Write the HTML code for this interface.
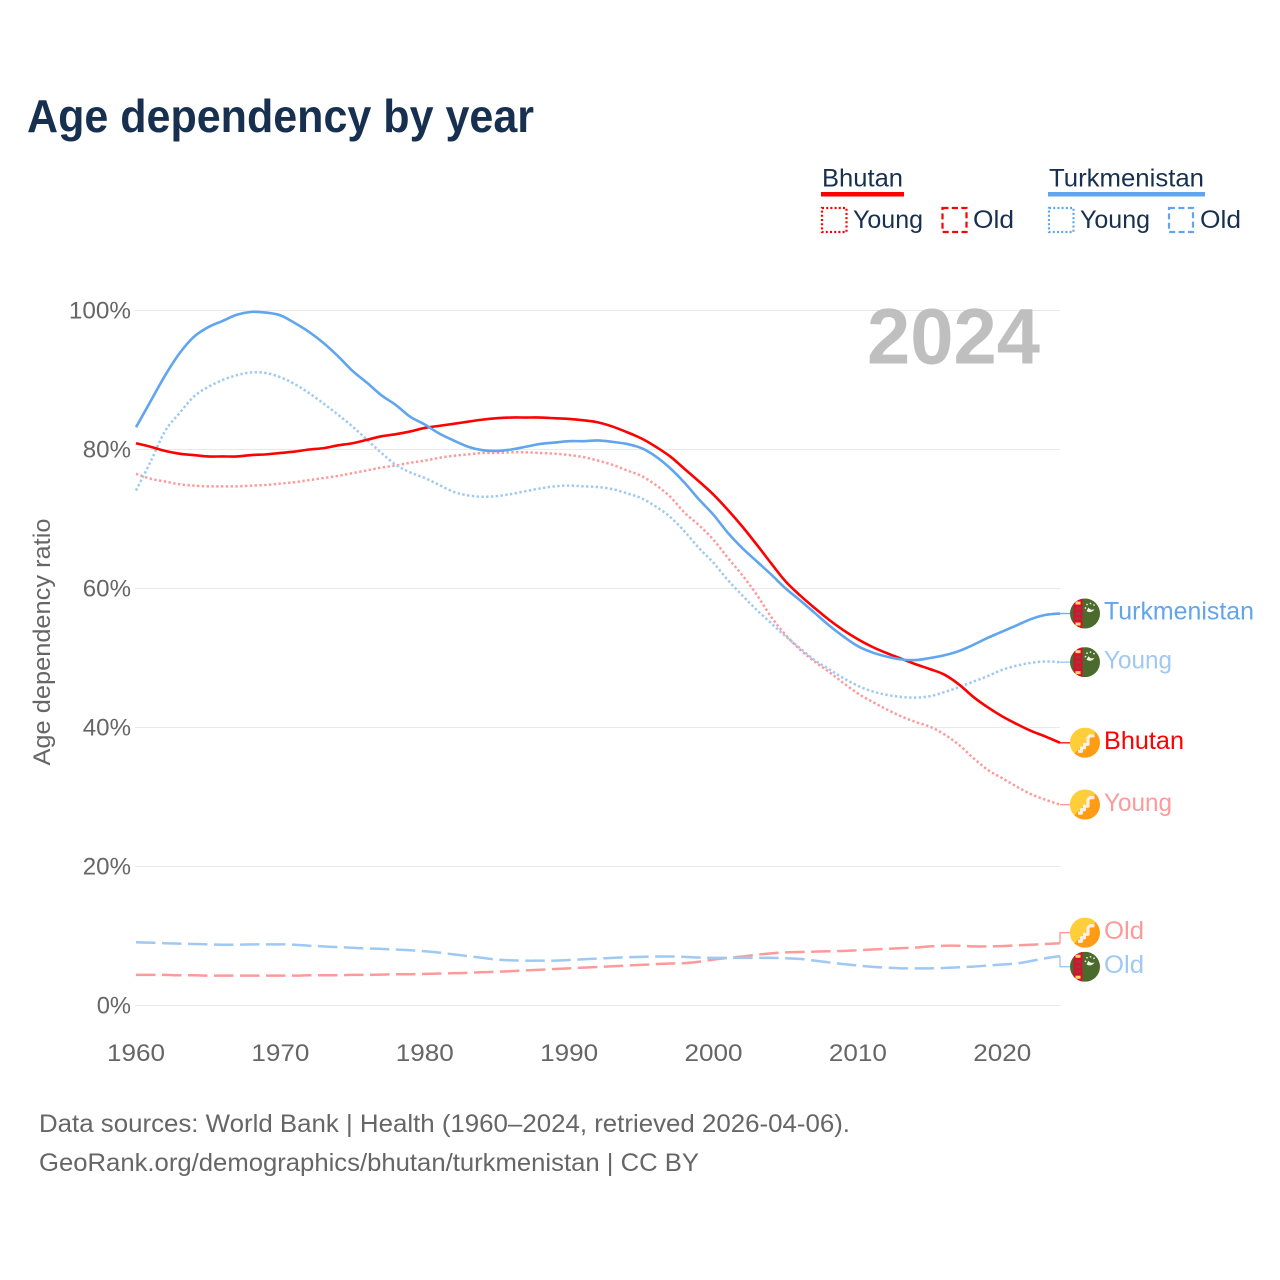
<!DOCTYPE html>
<html lang="en">
<head>
<meta charset="utf-8">
<title>Age dependency by year</title>
<style>
  html, body { margin: 0; padding: 0; background: #fff; }
  svg { display: block; font-family: "Liberation Sans", sans-serif; }
</style>
</head>
<body>
<svg id="chart" width="1280" height="1280" viewBox="0 0 1280 1280" xmlns="http://www.w3.org/2000/svg">
  <rect x="0" y="0" width="1280" height="1280" fill="#fff"/>
  <text x="27" y="132" font-size="46" font-weight="700" fill="#18304f" textLength="507" lengthAdjust="spacingAndGlyphs">Age dependency by year</text>

  <g fill="#18304f" font-size="25">
    <text x="822" y="186.5" textLength="81" lengthAdjust="spacingAndGlyphs">Bhutan</text>
    <rect x="821" y="192" width="83" height="4.5" fill="#ff0000"/>
    <rect x="822" y="208" width="24.5" height="24" fill="none" stroke="#ff0000" stroke-width="2.2" stroke-dasharray="2 2.2"/>
    <text x="853" y="228" textLength="70" lengthAdjust="spacingAndGlyphs">Young</text>
    <rect x="942.5" y="208" width="24" height="24" fill="none" stroke="#ff0000" stroke-width="2.2" stroke-dasharray="6 3.4"/>
    <text x="973" y="228" textLength="41" lengthAdjust="spacingAndGlyphs">Old</text>
    <text x="1049" y="186.5" textLength="155" lengthAdjust="spacingAndGlyphs">Turkmenistan</text>
    <rect x="1048" y="192" width="157" height="4.5" fill="#60a5ee"/>
    <rect x="1049" y="208" width="24.5" height="24" fill="none" stroke="#60a5ee" stroke-width="2.2" stroke-dasharray="2 2.2"/>
    <text x="1080" y="228" textLength="70" lengthAdjust="spacingAndGlyphs">Young</text>
    <rect x="1169" y="208" width="24" height="24" fill="none" stroke="#60a5ee" stroke-width="2.2" stroke-dasharray="6 3.4"/>
    <text x="1200" y="228" textLength="41" lengthAdjust="spacingAndGlyphs">Old</text>
  </g>

  <g id="grid"></g>
  <g id="yticks"></g>
  <g id="xticks"></g>
  <text transform="translate(50 642) rotate(-90)" text-anchor="middle" font-size="24" fill="#666" textLength="247" lengthAdjust="spacingAndGlyphs">Age dependency ratio</text>
  <text x="867" y="363.5" font-size="79" font-weight="700" fill="#bfbfbf" textLength="173" lengthAdjust="spacingAndGlyphs">2024</text>

  <g id="series"></g>
  <g id="labels"></g>

  <text x="39" y="1132" font-size="25" fill="#666" textLength="811" lengthAdjust="spacingAndGlyphs">Data sources: World Bank | Health (1960–2024, retrieved 2026-04-06).</text>
  <text x="39" y="1171" font-size="25" fill="#666" textLength="660" lengthAdjust="spacingAndGlyphs">GeoRank.org/demographics/bhutan/turkmenistan | CC BY</text>
</svg>
<script>
const startYear = 1960;
const yTickValues = [0, 20, 40, 60, 80, 100];
const yTickLabels = ["0%", "20%", "40%", "60%", "80%", "100%"];
const xTickValues = [1960, 1970, 1980, 1990, 2000, 2010, 2020];
const xTickLabels = ["1960", "1970", "1980", "1990", "2000", "2010", "2020"];

const bhutanTotal = [
  80.9,80.4,79.8,79.4,79.2,79.0,79.0,79.0,79.2,79.3,
  79.5,79.7,80.0,80.2,80.6,80.9,81.4,81.9,82.2,82.6,
  83.1,83.4,83.7,84.0,84.3,84.5,84.6,84.6,84.6,84.5,
  84.4,84.2,83.9,83.3,82.5,81.6,80.4,79.0,77.2,75.4,
  73.5,71.3,68.9,66.3,63.6,61.0,59.0,57.2,55.5,54.0,
  52.7,51.6,50.7,49.9,49.1,48.4,47.6,46.2,44.4,42.9,
  41.6,40.5,39.5,38.7,37.8
];
const turkmenistanTotal = [
  83.2,86.9,90.6,93.8,96.2,97.6,98.5,99.4,99.8,99.7,
  99.3,98.2,96.9,95.3,93.4,91.3,89.6,87.8,86.4,84.7,
  83.6,82.3,81.3,80.4,79.9,79.8,80.0,80.4,80.8,81.0,
  81.2,81.2,81.3,81.1,80.8,80.2,79.0,77.3,75.2,72.8,
  70.6,68.0,65.8,63.9,62.0,60.0,58.3,56.5,54.7,53.1,
  51.7,50.8,50.2,49.8,49.7,50.0,50.4,51.0,51.9,52.9,
  53.8,54.7,55.6,56.2,56.4
];
const bhutanYoung = [
  76.5,75.8,75.4,75.0,74.8,74.7,74.7,74.7,74.8,74.9,
  75.1,75.3,75.6,75.9,76.2,76.6,77.0,77.4,77.7,78.1,
  78.4,78.8,79.1,79.3,79.5,79.5,79.6,79.6,79.5,79.4,
  79.2,78.9,78.4,77.8,77.0,76.2,74.9,73.2,70.9,69.1,
  67.0,64.4,61.9,59.1,55.9,53.3,51.2,49.5,48.0,46.4,
  44.9,43.7,42.6,41.6,40.8,40.1,39.0,37.5,35.6,33.9,
  32.7,31.5,30.4,29.6,28.9
];
const turkmenistanYoung = [
  74.1,78.2,82.6,85.2,87.6,89.0,90.0,90.7,91.1,91.0,
  90.4,89.4,88.1,86.6,85.0,83.3,81.4,79.5,77.8,76.7,
  75.9,74.9,73.9,73.4,73.2,73.3,73.6,74.0,74.4,74.7,
  74.8,74.7,74.6,74.3,73.7,73.0,71.8,70.3,68.2,65.8,
  63.7,61.2,59.0,56.9,55.0,53.1,51.4,49.7,48.4,47.1,
  46.0,45.2,44.7,44.4,44.3,44.5,45.1,45.8,46.6,47.4,
  48.3,48.9,49.3,49.5,49.4
];
const bhutanOld = [
  4.4,4.4,4.4,4.35,4.35,4.3,4.3,4.3,4.3,4.3,
  4.3,4.3,4.35,4.35,4.35,4.4,4.4,4.45,4.5,4.5,
  4.55,4.6,4.65,4.7,4.8,4.85,4.95,5.05,5.15,5.25,
  5.35,5.45,5.55,5.65,5.75,5.85,5.95,6.05,6.1,6.3,
  6.6,6.85,7.05,7.3,7.5,7.65,7.7,7.75,7.8,7.85,
  7.95,8.05,8.15,8.25,8.35,8.5,8.6,8.6,8.5,8.5,
  8.55,8.65,8.75,8.85,8.95
];
const turkmenistanOld = [
  9.1,9.05,8.95,8.9,8.85,8.8,8.75,8.75,8.8,8.8,
  8.8,8.75,8.6,8.5,8.4,8.3,8.2,8.15,8.05,7.95,
  7.8,7.6,7.35,7.1,6.85,6.6,6.5,6.45,6.45,6.45,
  6.55,6.65,6.75,6.85,6.95,7.0,7.05,7.05,7.0,6.9,
  6.85,6.85,6.85,6.85,6.85,6.8,6.7,6.45,6.2,5.95,
  5.75,5.55,5.45,5.35,5.35,5.35,5.4,5.5,5.6,5.75,
  5.9,6.05,6.4,6.8,7.1
];

const NS = "http://www.w3.org/2000/svg";
const xScale = (year) => 136 + (year - 1960) * (924 / 64);
const yScale = (value) => 1005.5 - value * 6.95;
const END_X = xScale(2024);
const LABEL_GAP = 34;

function make(tag, attrs, parent) {
  const el = document.createElementNS(NS, tag);
  for (const k in attrs) el.setAttribute(k, attrs[k]);
  parent.appendChild(el);
  return el;
}

const grid = document.getElementById("grid");
const yticks = document.getElementById("yticks");
yTickValues.forEach(function (v, i) {
  const line = make("line", { x1: 135, x2: END_X, y1: yScale(v), y2: yScale(v), stroke: "#e9e9e9", "stroke-width": 1 }, grid);
  
  
  const label = yTickLabels[i];
  const t = make("text", { x: 131, y: yScale(v) + 7.8, "text-anchor": "end", "font-size": 24, fill: "#666", textLength: label.length * 13.9 + 6.5, lengthAdjust: "spacingAndGlyphs" }, yticks);
  
  
  t.textContent = label;
});

const xticks = document.getElementById("xticks");
xTickValues.forEach(function (v, i) {
  const t = make("text", { x: xScale(v), y: 1061, "text-anchor": "middle", "font-size": 24, fill: "#666", textLength: 58, lengthAdjust: "spacingAndGlyphs" }, xticks);
  
  
  t.textContent = xTickLabels[i];
});

/* Smooth curve through the yearly points (Catmull-Rom to Bezier) */
function linePath(values) {
  const pts = values.map(function (v, i) {
    return [xScale(startYear + i), yScale(v)];
  });
  let d = "M" + pts[0][0].toFixed(2) + " " + pts[0][1].toFixed(2);
  for (let i = 0; i < pts.length - 1; i++) {
    const p0 = pts[Math.max(0, i - 1)];
    const p1 = pts[i];
    const p2 = pts[i + 1];
    const p3 = pts[Math.min(pts.length - 1, i + 2)];
    const c1x = p1[0] + (p2[0] - p0[0]) / 6;
    const c1y = p1[1] + (p2[1] - p0[1]) / 6;
    const c2x = p2[0] - (p3[0] - p1[0]) / 6;
    const c2y = p2[1] - (p3[1] - p1[1]) / 6;
    d += " C" + c1x.toFixed(2) + " " + c1y.toFixed(2) + " " + c2x.toFixed(2) + " " + c2y.toFixed(2) + " " + p2[0].toFixed(2) + " " + p2[1].toFixed(2);
  }
  return d;
}

const seriesList = [
  { key: "bhutan-old", values: bhutanOld, color: "#ff9a9a", dash: "19.5 6.5", label: "Old", flag: "bt", width: 2.5, textW: 40 },
  { key: "turkmenistan-old", values: turkmenistanOld, color: "#9fc9f3", dash: "19.5 6.5", label: "Old", flag: "tm", width: 2.5, textW: 40 },
  { key: "bhutan-young", values: bhutanYoung, color: "#ff9a9a", dash: "2.4 2.4", label: "Young", flag: "bt", width: 2.5, textW: 68 },
  { key: "turkmenistan-young", values: turkmenistanYoung, color: "#9fc9f3", dash: "2.4 2.4", label: "Young", flag: "tm", width: 2.5, textW: 68 },
  { key: "bhutan-total", values: bhutanTotal, color: "#ff0000", dash: "", label: "Bhutan", flag: "bt", width: 2.6, textW: 80 },
  { key: "turkmenistan-total", values: turkmenistanTotal, color: "#60a5ee", dash: "", label: "Turkmenistan", flag: "tm", width: 2.6, textW: 150 }
];

/* Spread the end labels apart when they would overlap */
function layoutLabels(list) {
  const items = list.map(function (s) {
    return { s: s, y: yScale(s.values[s.values.length - 1]) };
  }).sort(function (a, b) { return a.y - b.y; });
  items.forEach(function (it) { it.labelY = it.y; });
  for (let pass = 0; pass < 20; pass++) {
    for (let i = 1; i < items.length; i++) {
      const gap = items[i].labelY - items[i - 1].labelY;
      if (gap < LABEL_GAP) {
        const shift = (LABEL_GAP - gap) / 2;
        items[i - 1].labelY -= shift;
        items[i].labelY += shift;
      }
    }
  }
  return items;
}

const seriesGroup = document.getElementById("series");
seriesList.forEach(function (s) {
  const attrs = { d: linePath(s.values), fill: "none", stroke: s.color, "stroke-width": s.width, "stroke-linejoin": "round" };
  if (s.dash) attrs["stroke-dasharray"] = s.dash;
  const p = make("path", attrs, seriesGroup);
  
  
});

function drawFlag(kind, cx, cy, parent, id) {
  const g = make("g", { transform: "translate(" + (cx - 15) + " " + (cy - 15) + ")" }, parent);
  
  
  const clip = make("clipPath", { id: id }, g);
  make("circle", { cx: 15, cy: 15, r: 15 }, clip);
  const inner = make("g", { "clip-path": "url(#" + id + ")" }, g);
  if (kind === "bt") {
    make("rect", { x: 0, y: 0, width: 30, height: 30, fill: "#ff9c14" }, inner);
    make("path", { d: "M0 0H30L0 30Z", fill: "#ffce38" }, inner);
    make("path", { d: "M8 23.5H11.5V20H14.5V16.5H18V10L20 8H24.5", fill: "none", stroke: "#f6f1e4", "stroke-width": 3.2, "stroke-linejoin": "round" }, inner);
  } else {
    make("rect", { x: 0, y: 0, width: 30, height: 30, fill: "#4a6b2c" }, inner);
    make("rect", { x: 3.5, y: 0, width: 9, height: 30, fill: "#d80f2d" }, inner);
    [4.5, 10, 15, 20, 25.5].forEach(function (dy, i) {
      make("rect", { x: 5.5, y: dy - 1.5, width: 5, height: 3, fill: i === 0 || i === 4 ? "#ffd86a" : "#a8323a" }, inner);
    });
    make("path", { d: "M16.5 12.5A5.2 5.2 0 0 0 24.5 10.5A4.2 4.2 0 0 1 18.5 9Z", fill: "#f2f2e8" }, inner);
    make("circle", { cx: 17, cy: 6, r: 0.9, fill: "#e4e8da" }, inner);
    make("circle", { cx: 20.5, cy: 5, r: 0.9, fill: "#e4e8da" }, inner);
    make("circle", { cx: 24, cy: 6.5, r: 0.9, fill: "#e4e8da" }, inner);
    make("circle", { cx: 15.5, cy: 9.5, r: 0.9, fill: "#e4e8da" }, inner);
  }
}

const labelsGroup = document.getElementById("labels");
layoutLabels(seriesList).forEach(function (item, i) {
  const s = item.s;
  const lead = make("path", { d: "M" + END_X + " " + item.y.toFixed(2) + " V" + item.labelY.toFixed(2) + " H1070", fill: "none", stroke: s.color, "stroke-width": 1.4, opacity: s.dash ? 1 : 0.9 }, labelsGroup);
  
  
  drawFlag(s.flag, 1085, item.labelY, labelsGroup, "flag-clip-" + i);
  const t = make("text", { x: 1104, y: item.labelY + 6.2, "font-size": 25, fill: s.color, textLength: s.textW, lengthAdjust: "spacingAndGlyphs" }, labelsGroup);
  
  
  t.textContent = s.label;
});
</script>
</body>
</html>
